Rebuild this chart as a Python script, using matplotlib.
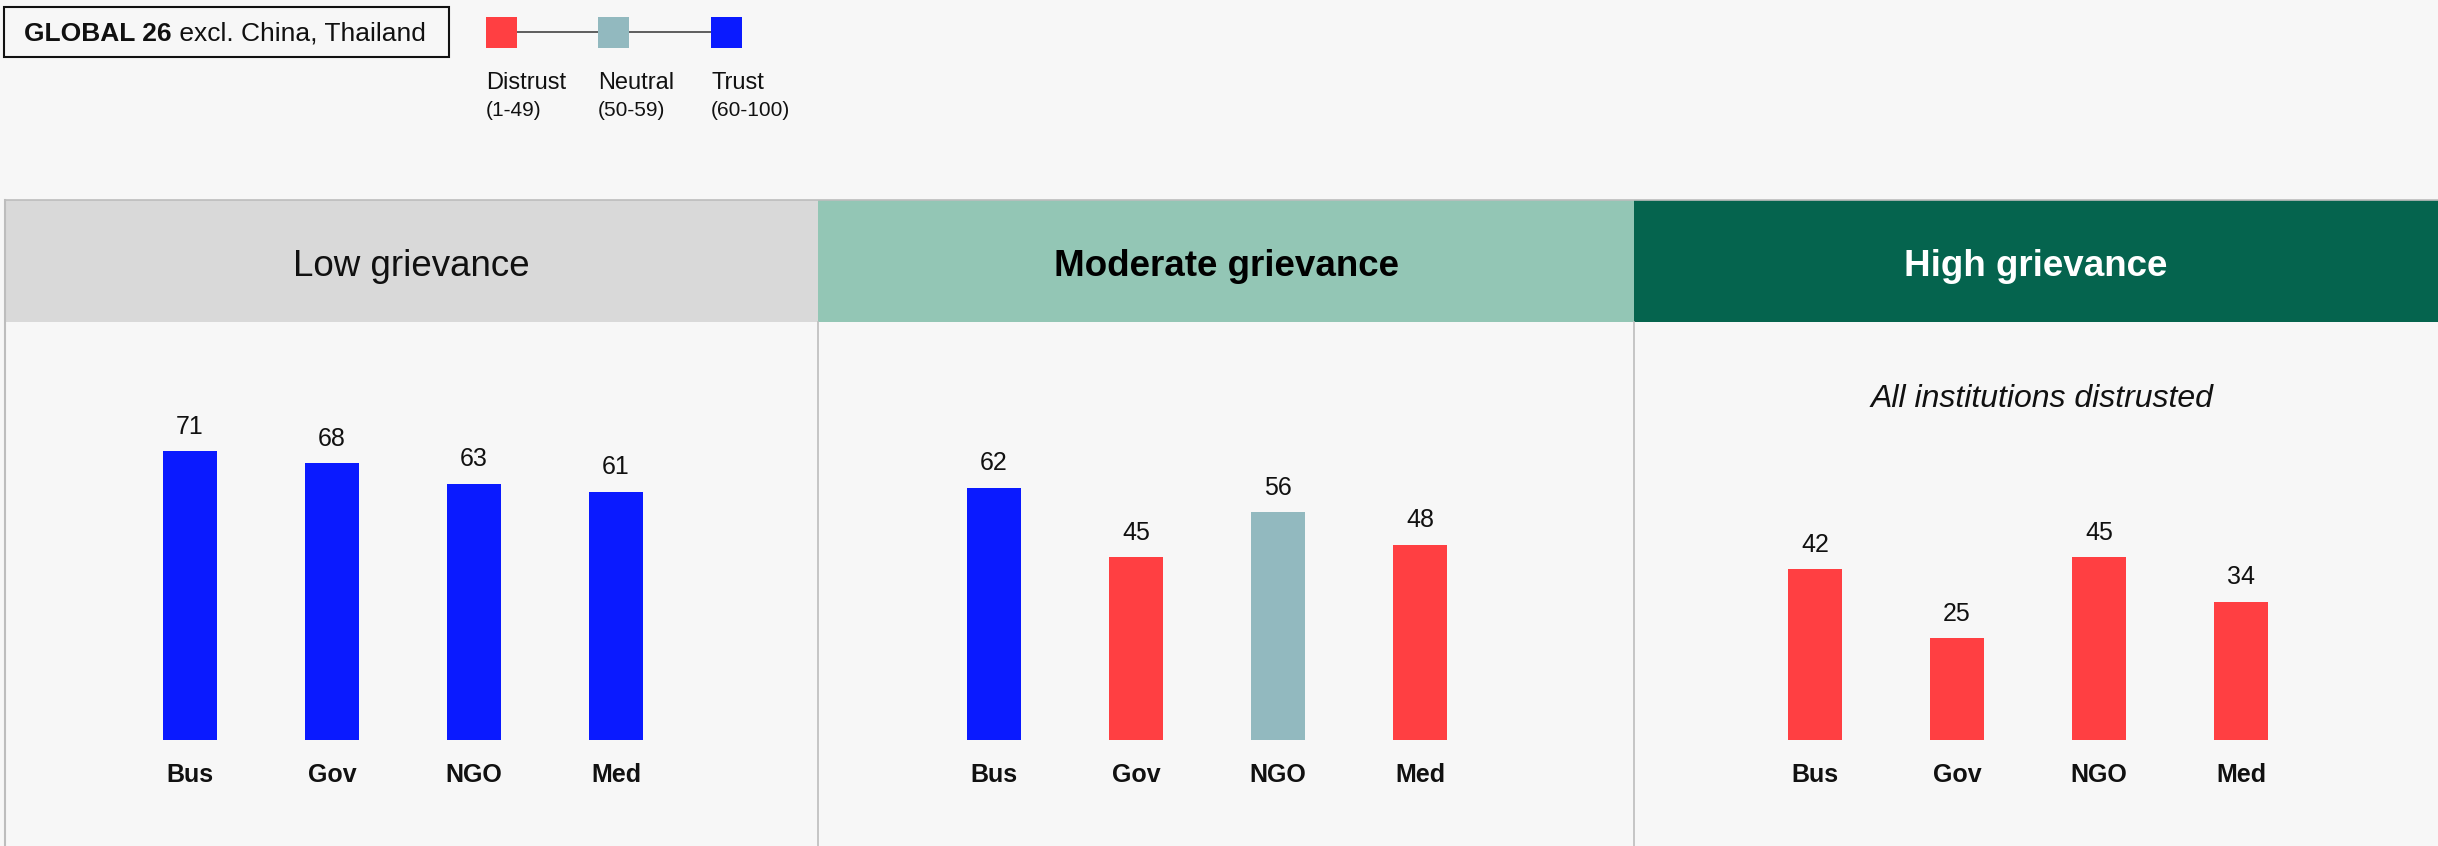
import matplotlib
matplotlib.use("Agg")
import matplotlib.pyplot as plt
from matplotlib.patches import Rectangle
from matplotlib.lines import Line2D

plt.rcParams["font.family"] = ["Liberation Sans", "DejaVu Sans"]

# ---------------------------------------------------------------------------
# Data
# ---------------------------------------------------------------------------
institutions = ["Bus", "Gov", "NGO", "Med"]
groups = ["Low grievance", "Moderate grievance", "High grievance"]
low_values = [71, 68, 63, 61]
moderate_values = [62, 45, 56, 48]
high_values = [42, 25, 45, 34]
legend_names = ["Distrust", "Neutral", "Trust"]
legend_ranges = ["(1-49)", "(50-59)", "(60-100)"]
badge_bold = "GLOBAL 26"
badge_rest = " excl. China, Thailand"
high_note = "All institutions distrusted"

# ---------------------------------------------------------------------------
# Style
# ---------------------------------------------------------------------------
BG = "#F7F7F7"
RED = "#FF3F42"
NEUTRAL = "#92B9BF"
BLUE = "#0A1AFF"
HEADER_COLORS = ["#D9D9D9", "#93C6B5", "#05644E"]
HEADER_TEXT = ["#111111", "#000000", "#FFFFFF"]
HEADER_WEIGHT = ["normal", "bold", "bold"]
BORDER = "#BDBDBD"

W, H = 2438, 846


def fx(x):
    return x / W


def fy(y):
    return 1 - y / H


def trust_color(v):
    if v < 50:
        return RED
    if v < 60:
        return NEUTRAL
    return BLUE


fig = plt.figure(figsize=(W / 100, H / 100), dpi=100)
fig.patch.set_facecolor(BG)

# panel geometry in pixels
panel_x0 = [5, 818, 1634]
panel_x1 = [818, 1634, 2438]
first_bar_offset = [185, 176, 181]
head_top, head_bot = 200, 322
baseline = 740
px_per_unit = 4.07
bar_step = 142.0
bar_w = 54.0

# headers
for i, name in enumerate(groups):
    x0, x1 = panel_x0[i], panel_x1[i]
    fig.patches.append(Rectangle((fx(x0), fy(head_bot)), (x1 - x0) / W,
                                 (head_bot - head_top) / H,
                                 transform=fig.transFigure,
                                 facecolor=HEADER_COLORS[i], edgecolor="none"))
    fig.text(fx((x0 + x1) / 2), fy(267), name, ha="center", va="center",
             fontsize=26.5, color=HEADER_TEXT[i], fontweight=HEADER_WEIGHT[i])

# borders
fig.add_artist(Line2D([fx(5), fx(W)], [fy(head_top), fy(head_top)],
                      color=BORDER, lw=1.2))
fig.add_artist(Line2D([fx(5), fx(5)], [fy(head_top), 0], color=BORDER, lw=1.5))
for xb in panel_x0[1:]:
    fig.add_artist(Line2D([fx(xb), fx(xb)], [fy(head_bot), 0],
                          color=BORDER, lw=1.2))

# bars
all_values = [low_values, moderate_values, high_values]
for i, vals in enumerate(all_values):
    x0, x1 = panel_x0[i], panel_x1[i]
    w = x1 - x0
    ax = fig.add_axes([fx(x0), 0, w / W, (H - head_bot) / H])
    ax.set_facecolor("none")
    ax.axis("off")
    off = first_bar_offset[i]
    ax.set_xlim(-off / bar_step, (w - off) / bar_step)
    below = (H - baseline) / px_per_unit
    ax.set_ylim(-below, (H - head_bot) / px_per_unit - below)
    xs = range(len(institutions))
    ax.bar(xs, vals, width=bar_w / bar_step,
           color=[trust_color(v) for v in vals])
    for xi, v in zip(xs, vals):
        ax.annotate(str(v), (xi, v), xytext=(0, 17.5),
                    textcoords="offset points", ha="center", va="center",
                    fontsize=18, color="#111111")
        ax.text(xi, -35 / px_per_unit, institutions[xi], ha="center",
                va="center", fontsize=18, fontweight="bold", color="#111111")

fig.text(fx(2042), fy(399), high_note, ha="center", va="center",
         fontsize=23, style="italic", color="#111111")

# badge
fig.patches.append(Rectangle((fx(4), fy(57)), 445 / W, 50 / H,
                             transform=fig.transFigure, facecolor=BG,
                             edgecolor="#111111", lw=1.5))
t1 = fig.text(fx(24), fy(34), badge_bold, ha="left", va="center",
              fontsize=19, fontweight="bold", color="#111111")
fig.add_artist(plt.Annotation(badge_rest, xy=(1, 0.5), xycoords=t1,
                              ha="left", va="center", fontsize=19,
                              color="#111111"))

# trust scale legend
leg_x = [486, 598, 711]
leg_colors = [RED, NEUTRAL, BLUE]
fig.add_artist(Line2D([fx(501), fx(726)], [fy(32), fy(32)],
                      color="#444444", lw=1.2, zorder=1))
for x, c, name, rng in zip(leg_x, leg_colors, legend_names, legend_ranges):
    fig.patches.append(Rectangle((fx(x), fy(48)), 31 / W, 31 / H,
                                 transform=fig.transFigure, facecolor=c,
                                 edgecolor="none", zorder=2))
    fig.text(fx(x), fy(83), name, ha="left", va="center", fontsize=17,
             color="#111111")
    fig.text(fx(x), fy(110), rng, ha="left", va="center", fontsize=15,
             color="#111111")

fig.savefig("out.png", dpi=100, facecolor=BG)
